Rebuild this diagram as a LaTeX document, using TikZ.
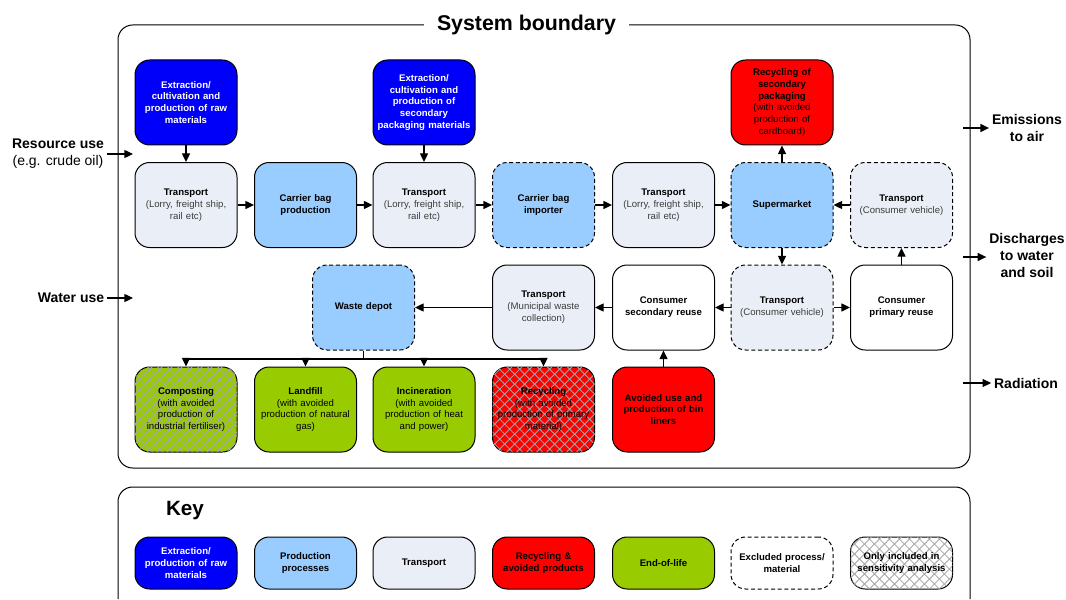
\documentclass[tikz,border=0pt]{standalone}
\usepackage{fontspec}
\setmainfont{Liberation Sans}
\usetikzlibrary{arrows.meta,patterns.meta}

\definecolor{extblue}{RGB}{0,0,250}
\definecolor{prodblue}{RGB}{153,204,255}
\definecolor{transgrey}{RGB}{234,239,247}
\definecolor{recred}{RGB}{255,0,0}
\definecolor{eolgreen}{RGB}{153,204,0}
\definecolor{hatchgrey}{RGB}{165,165,165}
\definecolor{subgrey}{RGB}{60,60,60}

\newcommand{\procfont}{\fontsize{7.2}{8.9}\selectfont}
\newcommand{\flowfont}{\fontsize{10.5}{13}\selectfont}
\newcommand{\subtxt}[1]{{\color{subgrey}#1}}

\tikzset{
  proc/.style={draw, line width=0.75pt, rounded corners=11pt,
    minimum width=76.5pt, minimum height=63.75pt, text width=74pt,
    inner sep=0pt, align=center, font=\procfont},
  extract/.style={proc, fill=extblue, text=white, font=\procfont\bfseries},
  produce/.style={proc, fill=prodblue},
  transport/.style={proc, fill=transgrey},
  recycle/.style={proc, fill=recred, text=black},
  endlife/.style={proc, fill=eolgreen, text=black},
  consumer/.style={proc, fill=white},
  excluded/.style={dash pattern=on 3pt off 2pt},
  sensitive/.style={
    postaction={pattern={Lines[angle=45,distance=5.3pt,line width=0.6pt]}, pattern color=hatchgrey},
    postaction={pattern={Lines[angle=-45,distance=5.3pt,line width=0.6pt]}, pattern color=hatchgrey}},
  keyproc/.style={minimum height=39pt, font=\procfont\bfseries},
  arr/.style={-{Triangle[length=6.5pt,width=6pt]}, line width=1pt},
  flow/.style={font=\flowfont, align=center, inner sep=2pt}
}

\begin{document}
\begin{tikzpicture}[x=0.75pt,y=-0.75pt]
  \useasboundingbox (0,0) rectangle (1066,599);

  \draw[line width=0.75pt, rounded corners=11pt] (118,25) rectangle (970,468);
  \node[fill=white, inner xsep=10pt, font=\fontsize{16}{18}\selectfont\bfseries] (title) at (526.5,25) {System boundary};

  \node[extract] (raw) at (186,102.5) {Extraction/\\ cultivation and\\ production of raw\\ materials};
  \node[extract] (secmat) at (424,102.5) {Extraction/\\ cultivation and\\ production of\\ secondary\\ packaging materials};
  \node[recycle] (recpack) at (782,102.5) {\textbf{Recycling of}\\ \textbf{secondary}\\ \textbf{packaging}\\ (with avoided\\ production of\\ cardboard)};

  \node[transport] (trans1) at (186,205) {\textbf{Transport}\\ \subtxt{(Lorry, freight ship,\\ rail etc)}};
  \node[produce] (bagprod) at (305.5,205) {\textbf{Carrier bag}\\ \textbf{production}};
  \node[transport] (trans2) at (424,205) {\textbf{Transport}\\ \subtxt{(Lorry, freight ship,\\ rail etc)}};
  \node[produce, excluded] (importer) at (543.5,205) {\textbf{Carrier bag}\\ \textbf{importer}};
  \node[transport] (trans3) at (663.5,205) {\textbf{Transport}\\ \subtxt{(Lorry, freight ship,\\ rail etc)}};
  \node[produce, excluded] (market) at (782,205) {\textbf{Supermarket}};
  \node[transport, excluded] (carback) at (901.5,205) {\textbf{Transport}\\ \subtxt{(Consumer vehicle)}};

  \node[produce, excluded] (depot) at (363.5,307.5) {\textbf{Waste depot}};
  \node[transport] (council) at (543.5,307.5) {\textbf{Transport}\\ \subtxt{(Municipal waste\\ collection)}};
  \node[consumer] (secreuse) at (663.5,307.5) {\textbf{Consumer}\\ \textbf{secondary reuse}};
  \node[transport, excluded] (carhome) at (782,307.5) {\textbf{Transport}\\ \subtxt{(Consumer vehicle)}};
  \node[consumer] (primreuse) at (901.5,307.5) {\textbf{Consumer}\\ \textbf{primary reuse}};

  \node[endlife, sensitive] (compost) at (186,409.5) {\textbf{Composting}\\ (with avoided\\ production of\\ industrial fertiliser)};
  \node[endlife] (landfill) at (305.5,409.5) {\textbf{Landfill}\\ (with avoided\\ production of natural\\ gas)};
  \node[endlife] (incin) at (424,409.5) {\textbf{Incineration}\\ (with avoided\\ production of heat\\ and power)};
  \node[recycle, sensitive] (recyc) at (543.5,409.5) {\textbf{Recycling}\\ (with avoided\\ production of primary\\ material)};
  \node[recycle] (binliner) at (663.5,409.5) {\textbf{Avoided use and}\\ \textbf{production of bin}\\ \textbf{liners}};

  \draw[arr] (raw) -- (trans1);
  \draw[arr] (secmat) -- (trans2);
  \draw[arr] (trans1) -- (bagprod);
  \draw[arr] (bagprod) -- (trans2);
  \draw[arr] (trans2) -- (importer);
  \draw[arr] (importer) -- (trans3);
  \draw[arr] (trans3) -- (market);
  \draw[arr] (carback) -- (market);
  \draw[arr] (market) -- (recpack);
  \draw[arr] (market) -- (carhome);
  \draw[arr] (carhome) -- (secreuse);
  \draw[arr] (carhome) -- (primreuse);
  \draw[arr] (primreuse) -- (carback);
  \draw[arr] (secreuse) -- (council);
  \draw[arr] (council) -- (depot);
  \draw[arr] (binliner) -- (secreuse);

  \coordinate (bus) at (363.5,359);
  \draw[line width=1pt] (depot) -- (bus);
  \draw[arr] (bus) -| (compost);
  \draw[arr] (bus) -| (landfill);
  \draw[arr] (bus) -| (incin);
  \draw[arr] (bus) -| (recyc);

  \node[flow] (resource) at (58,153.5) {\textbf{Resource use}\\ (e.g. crude oil)};
  \node[flow] (water) at (71,298) {\textbf{Water use}};
  \coordinate (resin) at (133,154);
  \coordinate (waterin) at (133,298);
  \draw[arr] (resource.east |- resin) -- (resin);
  \draw[arr] (water) -- (waterin);

  \node[flow, font=\flowfont\bfseries] (air) at (1027,128) {Emissions\\ to air};
  \node[flow, font=\flowfont\bfseries] (soil) at (1027,255.5) {Discharges\\ to water\\ and soil};
  \node[flow, font=\flowfont\bfseries] (rad) at (1026,383) {Radiation};
  \coordinate (airout) at (963,128);
  \coordinate (soilout) at (963,257);
  \coordinate (radout) at (963,383);
  \draw[arr] (airout) -- (air.west |- airout);
  \draw[arr] (soilout) -- (soil.west |- soilout);
  \draw[arr] (radout) -- (rad);

  \draw[line width=0.75pt, rounded corners=11pt] (118,599) -- (118,487) -- (970,487) -- (970,599);
  \node[font=\fontsize{15.5}{18}\selectfont\bfseries] (key) at (185,511) {Key};
  \node[extract, keyproc] (kext) at (186,563) {Extraction/\\ production of raw\\ materials};
  \node[produce, keyproc] (kprod) at (305.5,563) {Production\\ processes};
  \node[transport, keyproc] (ktrans) at (424,563) {Transport};
  \node[recycle, keyproc] (krec) at (543.5,563) {Recycling \&\\ avoided products};
  \node[endlife, keyproc] (keol) at (663.5,563) {End-of-life};
  \node[consumer, excluded, keyproc] (kexcl) at (782,563) {Excluded process/\\ material};
  \node[consumer, sensitive, keyproc] (ksens) at (901.5,563) {Only included in\\ sensitivity analysis};
\end{tikzpicture}
\end{document}
